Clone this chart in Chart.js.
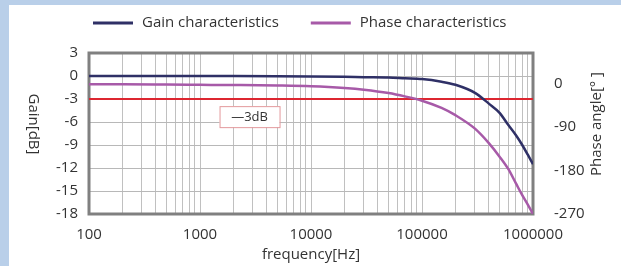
<!DOCTYPE html>
<html lang="en">
<head>
<meta charset="UTF-8">
<title>Gain / phase characteristics</title>
<script src="https://cdn.jsdelivr.net/npm/chart.js"></script>
<style>
  body { margin: 0; background: #b9cfe9; }
  #panel { position: absolute; left: 9px; top: 5px; width: 612px; height: 261px; background: #fff; }
</style>
</head>
<body>
<div id="panel"><canvas id="bode" width="612" height="261"></canvas></div>
<script>
// frequency points (Hz) and the two curves
const freqHz   = [100, 200, 500, 1000, 2000, 5000, 10000, 20000, 30000, 50000, 70000, 100000,
                  150000, 200000, 300000, 400000, 500000, 600000, 700000, 800000, 900000, 1000000];
const gainDb   = [0, 0, 0, 0, 0, -0.02, -0.05, -0.1, -0.15, -0.2, -0.3, -0.4,
                  -0.75, -1.15, -2.2, -3.6, -4.8, -6.4, -7.7, -9.0, -10.3, -11.5];
const phaseDeg = [-1, -1, -1.5, -2, -2.5, -3.5, -5, -8.5, -12, -19, -26, -35,
                  -50, -65, -93, -123, -151, -177, -206, -231, -251, -270];
const cutoffDb = -3;
const cutoffText = '—3dB';

const seriesNames = ['Gain characteristics', 'Phase characteristics'];
const freqLabels = [100, 1000, 10000, 100000, 1000000];
const gainTicks  = [3, 0, -3, -6, -9, -12, -15, -18];
const phaseTicks = [0, -90, -180, -270];

// log grid: 1..9 per decade
const gridFreqs = [];
freqLabels.forEach((d, i) => {
  if (i === freqLabels.length - 1) { gridFreqs.push(d); return; }
  for (let k = 1; k < 10; k++) gridFreqs.push(k * d);
});

const FONT = "'Open Sans', sans-serif";
const TEXT = '#333333';
Chart.defaults.font.family = FONT;
Chart.defaults.font.size = 15;
Chart.defaults.color = TEXT;

const decor = {
  id: 'decor',
  beforeDatasetsDraw(chart) {
    const { ctx, chartArea: a } = chart;
    ctx.save();
    ctx.strokeStyle = '#808080';
    ctx.lineWidth = 3;
    ctx.strokeRect(a.left, a.top, a.right - a.left, a.bottom - a.top);
    ctx.restore();
  },
  afterDatasetsDraw(chart) {
    // "-3dB" note box
    const { ctx, scales } = chart;
    const bx = scales.x.getPixelForValue(1500);
    const by = scales.y.getPixelForValue(-5.3);
    ctx.save();
    ctx.fillStyle = '#fff';
    ctx.strokeStyle = '#e3999c';
    ctx.lineWidth = 1;
    ctx.fillRect(bx, by - 10.5, 60, 21);
    ctx.strokeRect(bx + 0.5, by - 10, 60, 21);
    ctx.fillStyle = TEXT;
    ctx.font = '13px ' + FONT;
    ctx.textAlign = 'center';
    ctx.textBaseline = 'middle';
    ctx.fillText(cutoffText, bx + 30, by + 1);
    ctx.restore();
  },
  afterDraw(chart) {
    const { ctx } = chart;
    ctx.save();
    ctx.font = '15px ' + FONT;
    ctx.fillStyle = TEXT;
    ctx.textBaseline = 'middle';
    // legend
    let x = 84;
    const y = 18;
    seriesNames.forEach((name, i) => {
      const ds = chart.data.datasets[i];
      ctx.strokeStyle = ds.borderColor;
      ctx.lineWidth = 3;
      ctx.beginPath();
      ctx.moveTo(x, y);
      ctx.lineTo(x + 40, y);
      ctx.stroke();
      ctx.textAlign = 'left';
      ctx.fillText(name, x + 49, y);
      x += 49 + ctx.measureText(name).width + 32;
    });
    // axis titles (left reads downward, right reads upward)
    ctx.textAlign = 'center';
    ctx.save();
    ctx.translate(24, 119);
    ctx.rotate(Math.PI / 2);
    ctx.fillText('Gain[dB]', 0, 0);
    ctx.restore();
    ctx.save();
    ctx.translate(588, 119);
    ctx.rotate(-Math.PI / 2);
    ctx.fillText('Phase angle[° ]', 0, 0);
    ctx.restore();
    ctx.restore();
  }
};

new Chart(document.getElementById('bode'), {
  type: 'line',
  data: {
    datasets: [
      {
        label: seriesNames[0],
        data: freqHz.map((f, i) => ({ x: f, y: gainDb[i] })),
        borderColor: '#2f3066',
        borderWidth: 2.5,
        cubicInterpolationMode: 'monotone',
        yAxisID: 'y'
      },
      {
        label: seriesNames[1],
        data: freqHz.map((f, i) => ({ x: f, y: phaseDeg[i] })),
        borderColor: '#a75aa8',
        borderWidth: 2.5,
        cubicInterpolationMode: 'monotone',
        yAxisID: 'y2'
      },
      {
        label: '',
        data: [{ x: freqHz[0], y: cutoffDb }, { x: freqHz[freqHz.length - 1], y: cutoffDb }],
        borderColor: '#dd2630',
        borderWidth: 2,
        yAxisID: 'y'
      }
    ]
  },
  options: {
    responsive: false,
    devicePixelRatio: 1,
    animation: false,
    layout: { padding: { top: 48, left: 0, right: 0, bottom: 0 } },
    elements: { point: { radius: 0 } },
    plugins: { legend: { display: false }, tooltip: { enabled: false } },
    scales: {
      x: {
        type: 'logarithmic',
        min: 100,
        max: 1000000,
        afterBuildTicks: s => { s.ticks = gridFreqs.map(v => ({ value: v })); },
        afterFit: s => { s.height = 52; },
        ticks: {
          autoSkip: false,
          maxRotation: 0,
          padding: 12,
          callback: v => freqLabels.includes(v) ? String(v) : ''
        },
        grid: { color: '#c0c0c0', drawTicks: false },
        border: { display: false },
        title: { display: true, text: 'frequency[Hz]', padding: { top: 0, bottom: 2 } }
      },
      y: {
        position: 'left',
        min: -18,
        max: 3,
        afterBuildTicks: s => { s.ticks = gainTicks.map(v => ({ value: v })); },
        afterFit: s => { s.width = 80; },
        ticks: { padding: 11 },
        grid: { color: '#b8b8b8', drawTicks: false },
        border: { display: false }
      },
      y2: {
        position: 'right',
        min: -270,
        max: 64,
        afterBuildTicks: s => { s.ticks = phaseTicks.map(v => ({ value: v })); },
        afterFit: s => { s.width = 88; },
        ticks: { padding: 13 },
        grid: { display: false },
        border: { display: false }
      }
    }
  },
  plugins: [decor]
});
</script>
</body>
</html>
